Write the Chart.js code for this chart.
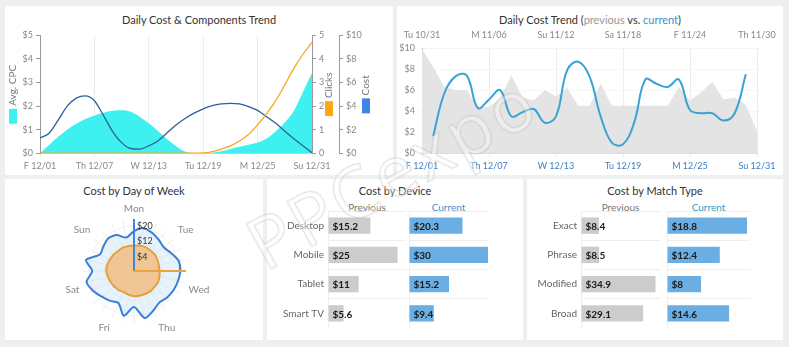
<!DOCTYPE html>
<html>
<head>
<meta charset="utf-8">
<script src="https://cdn.jsdelivr.net/npm/chart.js@4.4.1/dist/chart.umd.min.js"></script>
<style>
  body { margin: 0; background: #eef0f0; font-family: Lato, "Open Sans", sans-serif; }
  #board { position: relative; width: 789px; height: 347px; overflow: hidden; }
  .panel { position: absolute; background: #fff; }
  .panel h3 { position: absolute; left: 0; right: 0; margin: 0; text-align: center;
              font-size: 11px; font-weight: normal; color: #333; line-height: 14px; }
  .panel canvas { position: absolute; }
  .colhead { position: absolute; font-size: 10px; line-height: 12px; color: #777; text-align: center; }
  .prev { color: #999; }
  .curr { color: #3a8fc8; }
  #stamp { position: absolute; left: 262px; top: 209px; font-family: "Open Sans", sans-serif;
           font-size: 72px; line-height: 72px; letter-spacing: 3px; white-space: nowrap;
           color: rgba(255,255,255,0.35); -webkit-text-stroke: 1px rgba(160,160,160,0.38);
           transform: rotate(-29deg); transform-origin: 0 80%; pointer-events: none; }
</style>
</head>
<body>
<div id="board">
  <div class="panel" style="left:5px;top:6px;width:388px;height:169px">
    <h3 style="top:7px">Daily Cost &amp; Components Trend</h3>
    <canvas id="components" width="388" height="147" style="left:0;top:21px"></canvas>
  </div>
  <div class="panel" style="left:397px;top:6px;width:386px;height:169px">
    <h3 style="top:7px">Daily Cost Trend (<span class="prev">previous</span> vs. <span class="curr">current</span>)</h3>
    <canvas id="trend" width="386" height="146" style="left:0;top:22px"></canvas>
  </div>
  <div class="panel" style="left:5px;top:179px;width:258px;height:161px">
    <h3 style="top:5px">Cost by Day of Week</h3>
    <canvas id="weekday" width="258" height="137" style="left:0;top:24px"></canvas>
  </div>
  <div class="panel" style="left:267px;top:179px;width:256px;height:161px">
    <h3 style="top:5px">Cost by Device</h3>
    <div class="colhead" style="left:61px;width:78px;top:22px">Previous</div>
    <div class="colhead" style="left:142px;width:79px;top:22px;color:#4a90c8">Current</div>
    <canvas id="devicePrev" width="139" height="117" style="left:0;top:32px"></canvas>
    <canvas id="deviceCurr" width="79" height="117" style="left:142px;top:32px"></canvas>
  </div>
  <div class="panel" style="left:527px;top:179px;width:256px;height:161px">
    <h3 style="top:5px">Cost by Match Type</h3>
    <div class="colhead" style="left:54px;width:79px;top:22px">Previous</div>
    <div class="colhead" style="left:140px;width:83px;top:22px;color:#2ba2c9">Current</div>
    <canvas id="matchPrev" width="133" height="117" style="left:0;top:32px"></canvas>
    <canvas id="matchCurr" width="83" height="117" style="left:140px;top:32px"></canvas>
  </div>
  <div id="stamp">PPCexpo</div>
</div>

<script>
// ---- data ----
const currentDays = ['F 12/01','Sa 12/02','Su 12/03','M 12/04','Tu 12/05','W 12/06','Th 12/07','F 12/08',
  'Sa 12/09','Su 12/10','M 12/11','Tu 12/12','W 12/13','Th 12/14','F 12/15','Sa 12/16','Su 12/17','M 12/18',
  'Tu 12/19','W 12/20','Th 12/21','F 12/22','Sa 12/23','Su 12/24','M 12/25','Tu 12/26','W 12/27','Th 12/28',
  'F 12/29','Sa 12/30','Su 12/31'];
const previousDays = ['Tu 10/31','W 11/01','Th 11/02','F 11/03','Sa 11/04','Su 11/05','M 11/06','Tu 11/07',
  'W 11/08','Th 11/09','F 11/10','Sa 11/11','Su 11/12','M 11/13','Tu 11/14','W 11/15','Th 11/16','F 11/17',
  'Sa 11/18','Su 11/19','M 11/20','Tu 11/21','W 11/22','Th 11/23','F 11/24','Sa 11/25','Su 11/26','M 11/27',
  'Tu 11/28','W 11/29','Th 11/30'];

const avgCpc = [0, 0.35, 0.7, 1.0, 1.25, 1.45, 1.6, 1.72, 1.8, 1.82, 1.76, 1.55, 1.27, 0.95, 0.6, 0.3,
  0.07, 0, 0, 0.02, 0.08, 0.18, 0.27, 0.36, 0.45, 0.62, 0.93, 1.3, 1.8, 2.6, 3.4];
const clicks = [0, 0, 0, 0, 0, 0, 0, 0, 0, 0, 0, 0, 0, 0, 0, 0, 0, 0, 0.01, 0.07, 0.18, 0.31, 0.52, 0.79,
  1.2, 1.68, 2.23, 2.9, 3.6, 4.2, 4.7];
const dailyCost = [1.3, 1.7, 2.8, 4.0, 4.67, 4.86, 4.45, 3.2, 1.86, 0.9, 0.4, 0.35, 0.63, 1.04, 1.72, 2.4,
  2.95, 3.4, 3.77, 4.04, 4.18, 4.23, 4.18, 3.96, 3.63, 3.09, 2.54, 1.86, 1.23, 0.63, 0.03];

const previousCost = [9.9, 8.2, 6.3, 6.0, 6.0, 4.4, 4.4, 5.2, 7.4, 5.3, 5.0, 6.0, 5.4, 6.2, 4.5, 4.5, 6.6,
  4.5, 4.5, 4.5, 4.5, 4.5, 4.5, 6.3, 5.0, 5.8, 6.8, 5.1, 5.3, 4.6, 2.1];
const currentCost = [null, 1.6, 5.7, 7.3, 7.4, 4.3, 5.1, 6.0, 3.5, 3.9, 4.2, 2.9, 3.5, 7.9, 8.7, 7.3, 3.5,
  1.0, 0.85, 2.9, 7.0, 6.6, 6.3, 7.0, 4.1, 3.8, 3.8, 3.1, 3.8, 7.5, null];

// four spokes per weekday, only the first one is named
const weekSpokes = ['Mon','','','','Tue','','','','Wed','','','','Thu','','','','Fri','','','',
  'Sat','','','','Sun','','',''];
const weekCurrent = [17.3, 19.4, 18.5, 17.3, 16.4, 18.0, 20.3, 20.6, 20.0, 19.4, 18.6, 17.6, 19.5, 21.6,
  15.4, 20.4, 15.2, 16.5, 18.0, 20.2, 21.8, 18.3, 22.1, 16.3, 17.0, 18.2, 17.3, 14.5];
const weekPrevious = [10.0, 10.3, 10.5, 10.4, 10.6, 10.2, 10.0, 10.0, 10.3, 10.5, 10.2, 10.3, 10.0, 9.9,
  9.8, 9.4, 9.0, 9.4, 9.8, 10.2, 10.6, 11.1, 11.0, 10.6, 10.4, 10.0, 10.2, 10.0];
const weekTicks = [4, 12, 20];

const devices = ['Desktop', 'Mobile', 'Tablet', 'Smart TV'];
const devicePrevious = [15.2, 25, 11, 5.6];
const deviceCurrent = [20.3, 30, 15.2, 9.4];

const matchTypes = ['Exact', 'Phrase', 'Modified', 'Broad'];
const matchPrevious = [8.4, 8.5, 34.9, 29.1];
const matchCurrent = [18.8, 12.4, 8, 14.6];

// ---- shared settings ----
const FONT = 'Lato, "Open Sans", sans-serif';
Chart.defaults.font.family = FONT;
Chart.defaults.font.size = 9;
Chart.defaults.color = '#888';
Chart.defaults.animation = false;
Chart.defaults.responsive = false;
Chart.defaults.plugins.legend.display = false;
Chart.defaults.plugins.tooltip.enabled = false;

const everySixth = (labels) => (v, i) => (i % 6 === 0 ? labels[i] : '');
const sixthGrid = (color) => (ctx) => (ctx.index % 6 === 0 ? color : 'rgba(0,0,0,0)');

// rotated axis caption with a colour key underneath
const axisKeys = {
  id: 'axisKeys',
  afterDraw(chart, args, opts) {
    const c = chart.ctx;
    const mid = (chart.chartArea.top + chart.chartArea.bottom) / 2;
    c.save();
    c.font = '10px ' + FONT;
    opts.items.forEach(k => {
      const s = chart.scales[k.axis];
      const x = s.position === 'left' ? s.left + k.inset : s.right - k.inset;
      const w = c.measureText(k.text).width;
      const top = mid - (w + 3 + 15) / 2;
      c.save();
      c.translate(x, top + w / 2);
      c.rotate(-Math.PI / 2);
      c.fillStyle = '#777';
      c.textAlign = 'center';
      c.textBaseline = 'middle';
      c.fillText(k.text, 0, 0);
      c.restore();
      c.fillStyle = k.color;
      c.fillRect(x - 4, top + w + 3, 8, 15);
    });
    c.restore();
  }
};

// ---- Daily Cost & Components Trend ----
new Chart(document.getElementById('components'), {
  type: 'line',
  data: {
    labels: currentDays,
    datasets: [
      { data: clicks, yAxisID: 'yClicks', borderColor: '#f5a623', borderWidth: 1.3, fill: false, order: 0 },
      { data: dailyCost, yAxisID: 'yCost', borderColor: '#2e5f9e', borderWidth: 1.3, fill: false, order: 1 },
      { data: avgCpc, yAxisID: 'y', borderWidth: 0, backgroundColor: '#3ff0f0', fill: 'origin', order: 2 }
    ]
  },
  options: {
    layout: { padding: { right: 21 } },
    elements: { point: { radius: 0 }, line: { cubicInterpolationMode: 'monotone' } },
    scales: {
      x: {
        ticks: { autoSkip: false, maxRotation: 0, callback: everySixth(currentDays) },
        grid: { color: sixthGrid('#ececec'), tickLength: 4 },
        border: { color: '#ccc' }
      },
      y: {
        position: 'left', min: 0, max: 5,
        ticks: { stepSize: 1, callback: v => '$' + v },
        grid: { drawOnChartArea: false, tickLength: 4, color: '#999' },
        border: { color: '#999' },
        afterFit: s => { s.width = 35; }
      },
      yClicks: {
        position: 'right', min: 0, max: 5,
        ticks: { stepSize: 1 },
        grid: { drawOnChartArea: false, tickLength: 4, color: '#999' },
        border: { color: '#999' },
        afterFit: s => { s.width = 27; }
      },
      yCost: {
        position: 'right', min: 0, max: 10,
        ticks: { stepSize: 2, callback: v => '$' + v },
        grid: { drawOnChartArea: false, tickLength: 4, color: '#999' },
        border: { color: '#999' },
        afterFit: s => { s.width = 33; }
      }
    },
    plugins: {
      axisKeys: {
        items: [
          { axis: 'y', text: 'Avg. CPC', color: '#3ff0f0', inset: 8 },
          { axis: 'yClicks', text: 'Clicks', color: '#ffa812', inset: 10 },
          { axis: 'yCost', text: 'Cost', color: '#3b87e8', inset: 6 }
        ]
      }
    }
  },
  plugins: [axisKeys]
});

// ---- Daily Cost Trend (previous vs. current) ----
// the previous period's dates share the x positions and are written above the plot
const previousDates = {
  id: 'previousDates',
  afterDraw(chart, args, opts) {
    const x = chart.scales.x;
    const c = chart.ctx;
    c.save();
    c.font = '9px ' + FONT;
    c.fillStyle = '#888';
    c.textAlign = 'center';
    c.textBaseline = 'middle';
    opts.labels.forEach((text, i) => {
      if (i % 6 === 0) c.fillText(text, x.getPixelForValue(i), chart.chartArea.top - 13);
    });
    c.restore();
  }
};

new Chart(document.getElementById('trend'), {
  type: 'line',
  data: {
    labels: currentDays,
    datasets: [
      { data: currentCost, borderColor: '#3ba3d3', borderWidth: 2, tension: 0.4, fill: false, order: 0 },
      { data: previousCost, borderWidth: 0, backgroundColor: '#e4e4e4', tension: 0, fill: 'origin', order: 1 }
    ]
  },
  options: {
    layout: { padding: { right: 26, top: 20 } },
    elements: { point: { radius: 0 } },
    scales: {
      x: {
        ticks: { autoSkip: false, maxRotation: 0, color: '#3a7fc0', callback: everySixth(currentDays) },
        grid: { color: sixthGrid('#ececec'), tickLength: 4 },
        border: { color: '#ddd' }
      },
      y: {
        min: 0, max: 10,
        ticks: { stepSize: 2, callback: v => '$' + v },
        grid: { color: '#f6f6f6', tickLength: 4 },
        border: { color: '#ccc' },
        afterFit: s => { s.width = 25; }
      }
    },
    plugins: { previousDates: { labels: previousDays } }
  },
  plugins: [previousDates]
});

// ---- Cost by Day of Week ----
const weekMarks = {
  id: 'weekMarks',
  afterDatasetsDraw(chart, args, opts) {
    const r = chart.scales.r;
    const c = chart.ctx;
    c.save();
    c.lineWidth = 2;
    opts.needles.forEach(n => {
      const p = r.getPointPositionForValue(n.index, r.max);
      c.strokeStyle = n.color;
      c.beginPath();
      c.moveTo(r.xCenter, r.yCenter);
      c.lineTo(p.x, p.y);
      c.stroke();
    });
    c.font = '9px ' + FONT;
    c.fillStyle = '#333';
    c.textAlign = 'left';
    c.textBaseline = 'middle';
    r.ticks.forEach(t => {
      c.fillText('$' + t.value, r.xCenter + 3, r.yCenter - r.getDistanceFromCenterForValue(t.value));
    });
    c.restore();
  }
};

new Chart(document.getElementById('weekday'), {
  type: 'radar',
  data: {
    labels: weekSpokes,
    datasets: [
      { data: weekPrevious, borderColor: '#e6a03a', backgroundColor: 'rgba(243,188,125,0.8)',
        borderWidth: 2, tension: 0.3, order: 0 },
      { data: weekCurrent, borderColor: '#3a7fd6', backgroundColor: 'rgba(205,226,246,0.45)',
        borderWidth: 2, tension: 0.25, order: 1 }
    ]
  },
  options: {
    elements: { point: { radius: 0 } },
    scales: {
      r: {
        min: -3, max: 23.5,
        afterBuildTicks: s => { s.ticks = weekTicks.map(v => ({ value: v })); },
        ticks: { display: false },
        grid: { circular: true, color: '#f1f1f1' },
        angleLines: { color: '#eeeeee' },
        pointLabels: { font: { size: 10 }, color: '#888', padding: 4 }
      }
    },
    plugins: {
      weekMarks: { needles: [{ index: 0, color: '#3a86e0' }, { index: 7, color: '#eba33c' }] }
    }
  },
  plugins: [weekMarks]
});

// ---- bar tables: value inside each bar, row names to the left of the first column ----
const barValues = {
  id: 'barValues',
  afterDatasetsDraw(chart, args, opts) {
    const c = chart.ctx;
    const values = chart.data.datasets[0].data;
    const y = chart.scales.y;
    c.save();
    c.textBaseline = 'middle';
    if (opts.rowNames) {
      c.font = '10px ' + FONT;
      c.fillStyle = '#666';
      c.textAlign = 'right';
      chart.data.labels.forEach((name, i) => c.fillText(name, chart.chartArea.left - 4, y.getPixelForValue(i)));
    }
    c.font = 'bold 10px ' + FONT;
    c.fillStyle = '#1a1a1a';
    c.textAlign = 'left';
    chart.getDatasetMeta(0).data.forEach((bar, i) => {
      c.fillText('$' + values[i], bar.base + 4, bar.y + 1);
    });
    c.restore();
  }
};

function barColumn(id, rows, values, color, max, labelWidth) {
  return new Chart(document.getElementById(id), {
    type: 'bar',
    data: {
      labels: rows,
      datasets: [{ data: values, backgroundColor: color, barPercentage: 0.56, categoryPercentage: 1 }]
    },
    options: {
      indexAxis: 'y',
      scales: {
        x: {
          min: 0, max: max,
          afterBuildTicks: s => { s.ticks = [{ value: 0 }, { value: max }]; },
          ticks: { display: false },
          grid: { color: '#eeeeee', drawTicks: false },
          border: { display: false },
          afterFit: s => { s.height = 0; }
        },
        y: {
          ticks: { display: false },
          grid: { offset: true, color: '#eeeeee', drawTicks: false },
          border: { display: false },
          afterFit: s => { s.width = labelWidth; }
        }
      },
      plugins: { barValues: { rowNames: labelWidth > 0 } }
    },
    plugins: [barValues]
  });
}

barColumn('devicePrev', devices, devicePrevious, '#cccccc', 28, 61);
barColumn('deviceCurr', devices, deviceCurrent, '#6aaee3', 30, 0);
barColumn('matchPrev', matchTypes, matchPrevious, '#cccccc', 37, 54);
barColumn('matchCurr', matchTypes, matchCurrent, '#6aaee3', 19.5, 0);
</script>
</body>
</html>
